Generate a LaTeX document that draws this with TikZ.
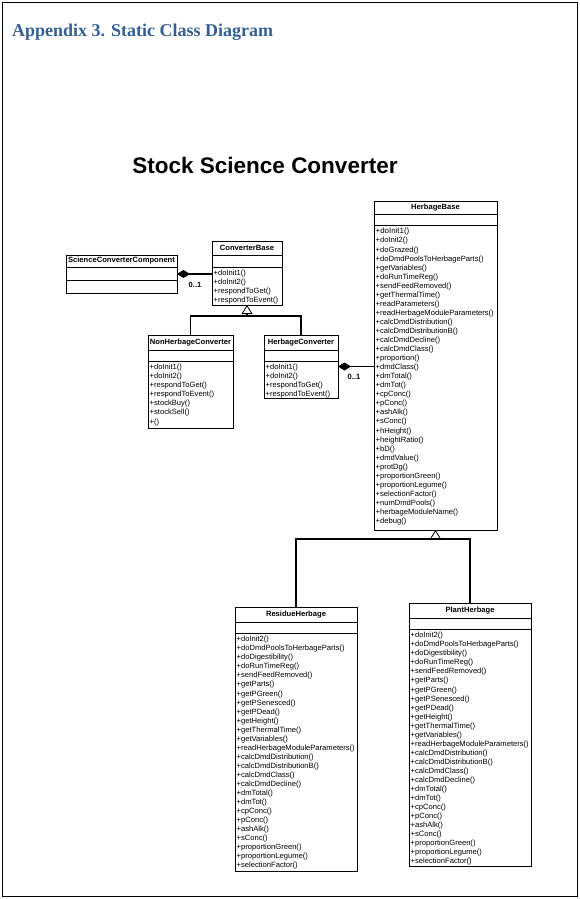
\documentclass[tikz,border=0pt]{standalone}
\usepackage{fontspec}
\setmainfont{Liberation Sans}
\newfontfamily\titlefont{Liberation Serif}
\usetikzlibrary{arrows.meta,shadows}
\definecolor{headblue}{RGB}{54,95,145}
\tikzset{
  classbox/.style={draw, line width=0.9pt, fill=white, anchor=north west, inner sep=0pt, outer sep=0pt,
    drop shadow={shadow xshift=0.9pt, shadow yshift=-0.9pt, fill=black, opacity=1}},
  divider/.style={line width=0.6pt},
  opslist/.style={anchor=north west, inner sep=0pt, align=left, font=\fontsize{7.6}{9.05}\selectfont},
  cname/.style={font=\bfseries\fontsize{7.6}{9}\selectfont, inner sep=0pt},
  mult/.style={font=\bfseries\fontsize{7.5}{9}\selectfont, inner sep=0pt},
  assoc/.style={line width=1.6pt, {Diamond[length=13pt,width=8pt]}-},
  gen/.style={line width=1.6pt},
  genhead/.style={line width=1.6pt, -{Triangle[open,length=9pt,width=11pt,line width=0.8pt]}},
}
\newcommand\umlclass[9]{%
  \node[classbox, minimum width=#4pt, minimum height=#5pt] (#1) at (#2,#3) {};
  \node[cname] (#1-name) at ({#2+#4/2},{#3+#7/2}) {#6};
  \draw[divider] ({#2},{#3+#7}) -- ({#2+#4},{#3+#7});
  \draw[divider] ({#2},{#3+#7+#8}) -- ({#2+#4},{#3+#7+#8});
  \node[opslist] (#1-ops) at ({#2+1.5},{#3+#7+#8+3}) {#9};
}
\begin{document}
\begin{tikzpicture}[x=1pt,y=-1pt]
\useasboundingbox (0,0) rectangle (580,899);
\draw[line width=0.9pt] (2,2) rectangle (577,896);
\node[anchor=base west, inner sep=0pt, text=headblue, font=\titlefont\bfseries\fontsize{18}{20}\selectfont] (title) at (12,37) {Appendix 3. Static Class Diagram};
\node[inner sep=0pt, font=\bfseries\fontsize{22.5}{25}\selectfont] (heading) at (265,165) {Stock Science Converter};

\umlclass{scc}{66}{255}{111}{38}{ScienceConverterComponent}{12}{13}{}
\umlclass{cb}{212}{241}{70}{64}{ConverterBase}{14}{12}{+doInit1()\\+doInit2()\\+respondToGet()\\+respondToEvent()}
\umlclass{nhc}{148}{335}{85}{93}{NonHerbageConverter}{15}{11}{+doInit1()\\+doInit2()\\+respondToGet()\\+respondToEvent()\\+stockBuy()\\+stockSell()\\+()}
\umlclass{hc}{264}{335}{74}{63}{HerbageConverter}{15}{11}{+doInit1()\\+doInit2()\\+respondToGet()\\+respondToEvent()}
\umlclass{hb}{374}{201}{123}{329}{HerbageBase}{13}{11}{\fontsize{7.9}{9.05}\selectfont +doInit1()\\+doInit2()\\+doGrazed()\\+doDmdPoolsToHerbageParts()\\+getVariables()\\+doRunTimeReg()\\+sendFeedRemoved()\\+getThermalTime()\\+readParameters()\\+readHerbageModuleParameters()\\+calcDmdDistribution()\\+calcDmdDistributionB()\\+calcDmdDecline()\\+calcDmdClass()\\+proportion()\\+dmdClass()\\+dmTotal()\\+dmTot()\\+cpConc()\\+pConc()\\+ashAlk()\\+sConc()\\+hHeight()\\+heightRatio()\\+bD()\\+dmdValue()\\+protDg()\\+proportionGreen()\\+proportionLegume()\\+selectionFactor()\\+numDmdPools()\\+herbageModuleName()\\+debug()}
\umlclass{rh}{235}{607}{122}{264}{ResidueHerbage}{15}{11}{+doInit2()\\+doDmdPoolsToHerbageParts()\\+doDigestibility()\\+doRunTimeReg()\\+sendFeedRemoved()\\+getParts()\\+getPGreen()\\+getPSenesced()\\+getPDead()\\+getHeight()\\+getThermalTime()\\+getVariables()\\+readHerbageModuleParameters()\\+calcDmdDistribution()\\+calcDmdDistributionB()\\+calcDmdClass()\\+calcDmdDecline()\\+dmTotal()\\+dmTot()\\+cpConc()\\+pConc()\\+ashAlk()\\+sConc()\\+proportionGreen()\\+proportionLegume()\\+selectionFactor()}
\umlclass{ph}{409}{603}{122}{263}{PlantHerbage}{15}{11}{+doInit2()\\+doDmdPoolsToHerbageParts()\\+doDigestibility()\\+doRunTimeReg()\\+sendFeedRemoved()\\+getParts()\\+getPGreen()\\+getPSenesced()\\+getPDead()\\+getHeight()\\+getThermalTime()\\+getVariables()\\+readHerbageModuleParameters()\\+calcDmdDistribution()\\+calcDmdDistributionB()\\+calcDmdClass()\\+calcDmdDecline()\\+dmTotal()\\+dmTot()\\+cpConc()\\+pConc()\\+ashAlk()\\+sConc()\\+proportionGreen()\\+proportionLegume()\\+selectionFactor()}

% compositions
\draw[assoc] (scc.east) -- (scc.east -| cb.west);
\node[mult] (m1) at (195,285) {0..1};
\draw[assoc] (hc.east) -- (hc.east -| hb.west);
\node[mult] (m2) at (354,377) {0..1};

% generalizations
\coordinate (cbj) at (247,316);
\draw[gen] (nhc.north) |- (cbj) -| (hc.north);
\draw[genhead] (cbj) -- (cb.south);
\coordinate (hbj) at (435.5,539);
\draw[gen] (rh.north) |- (hbj) -| (ph.north);
\draw[genhead] (hbj) -- (hb.south);
\end{tikzpicture}
\end{document}
